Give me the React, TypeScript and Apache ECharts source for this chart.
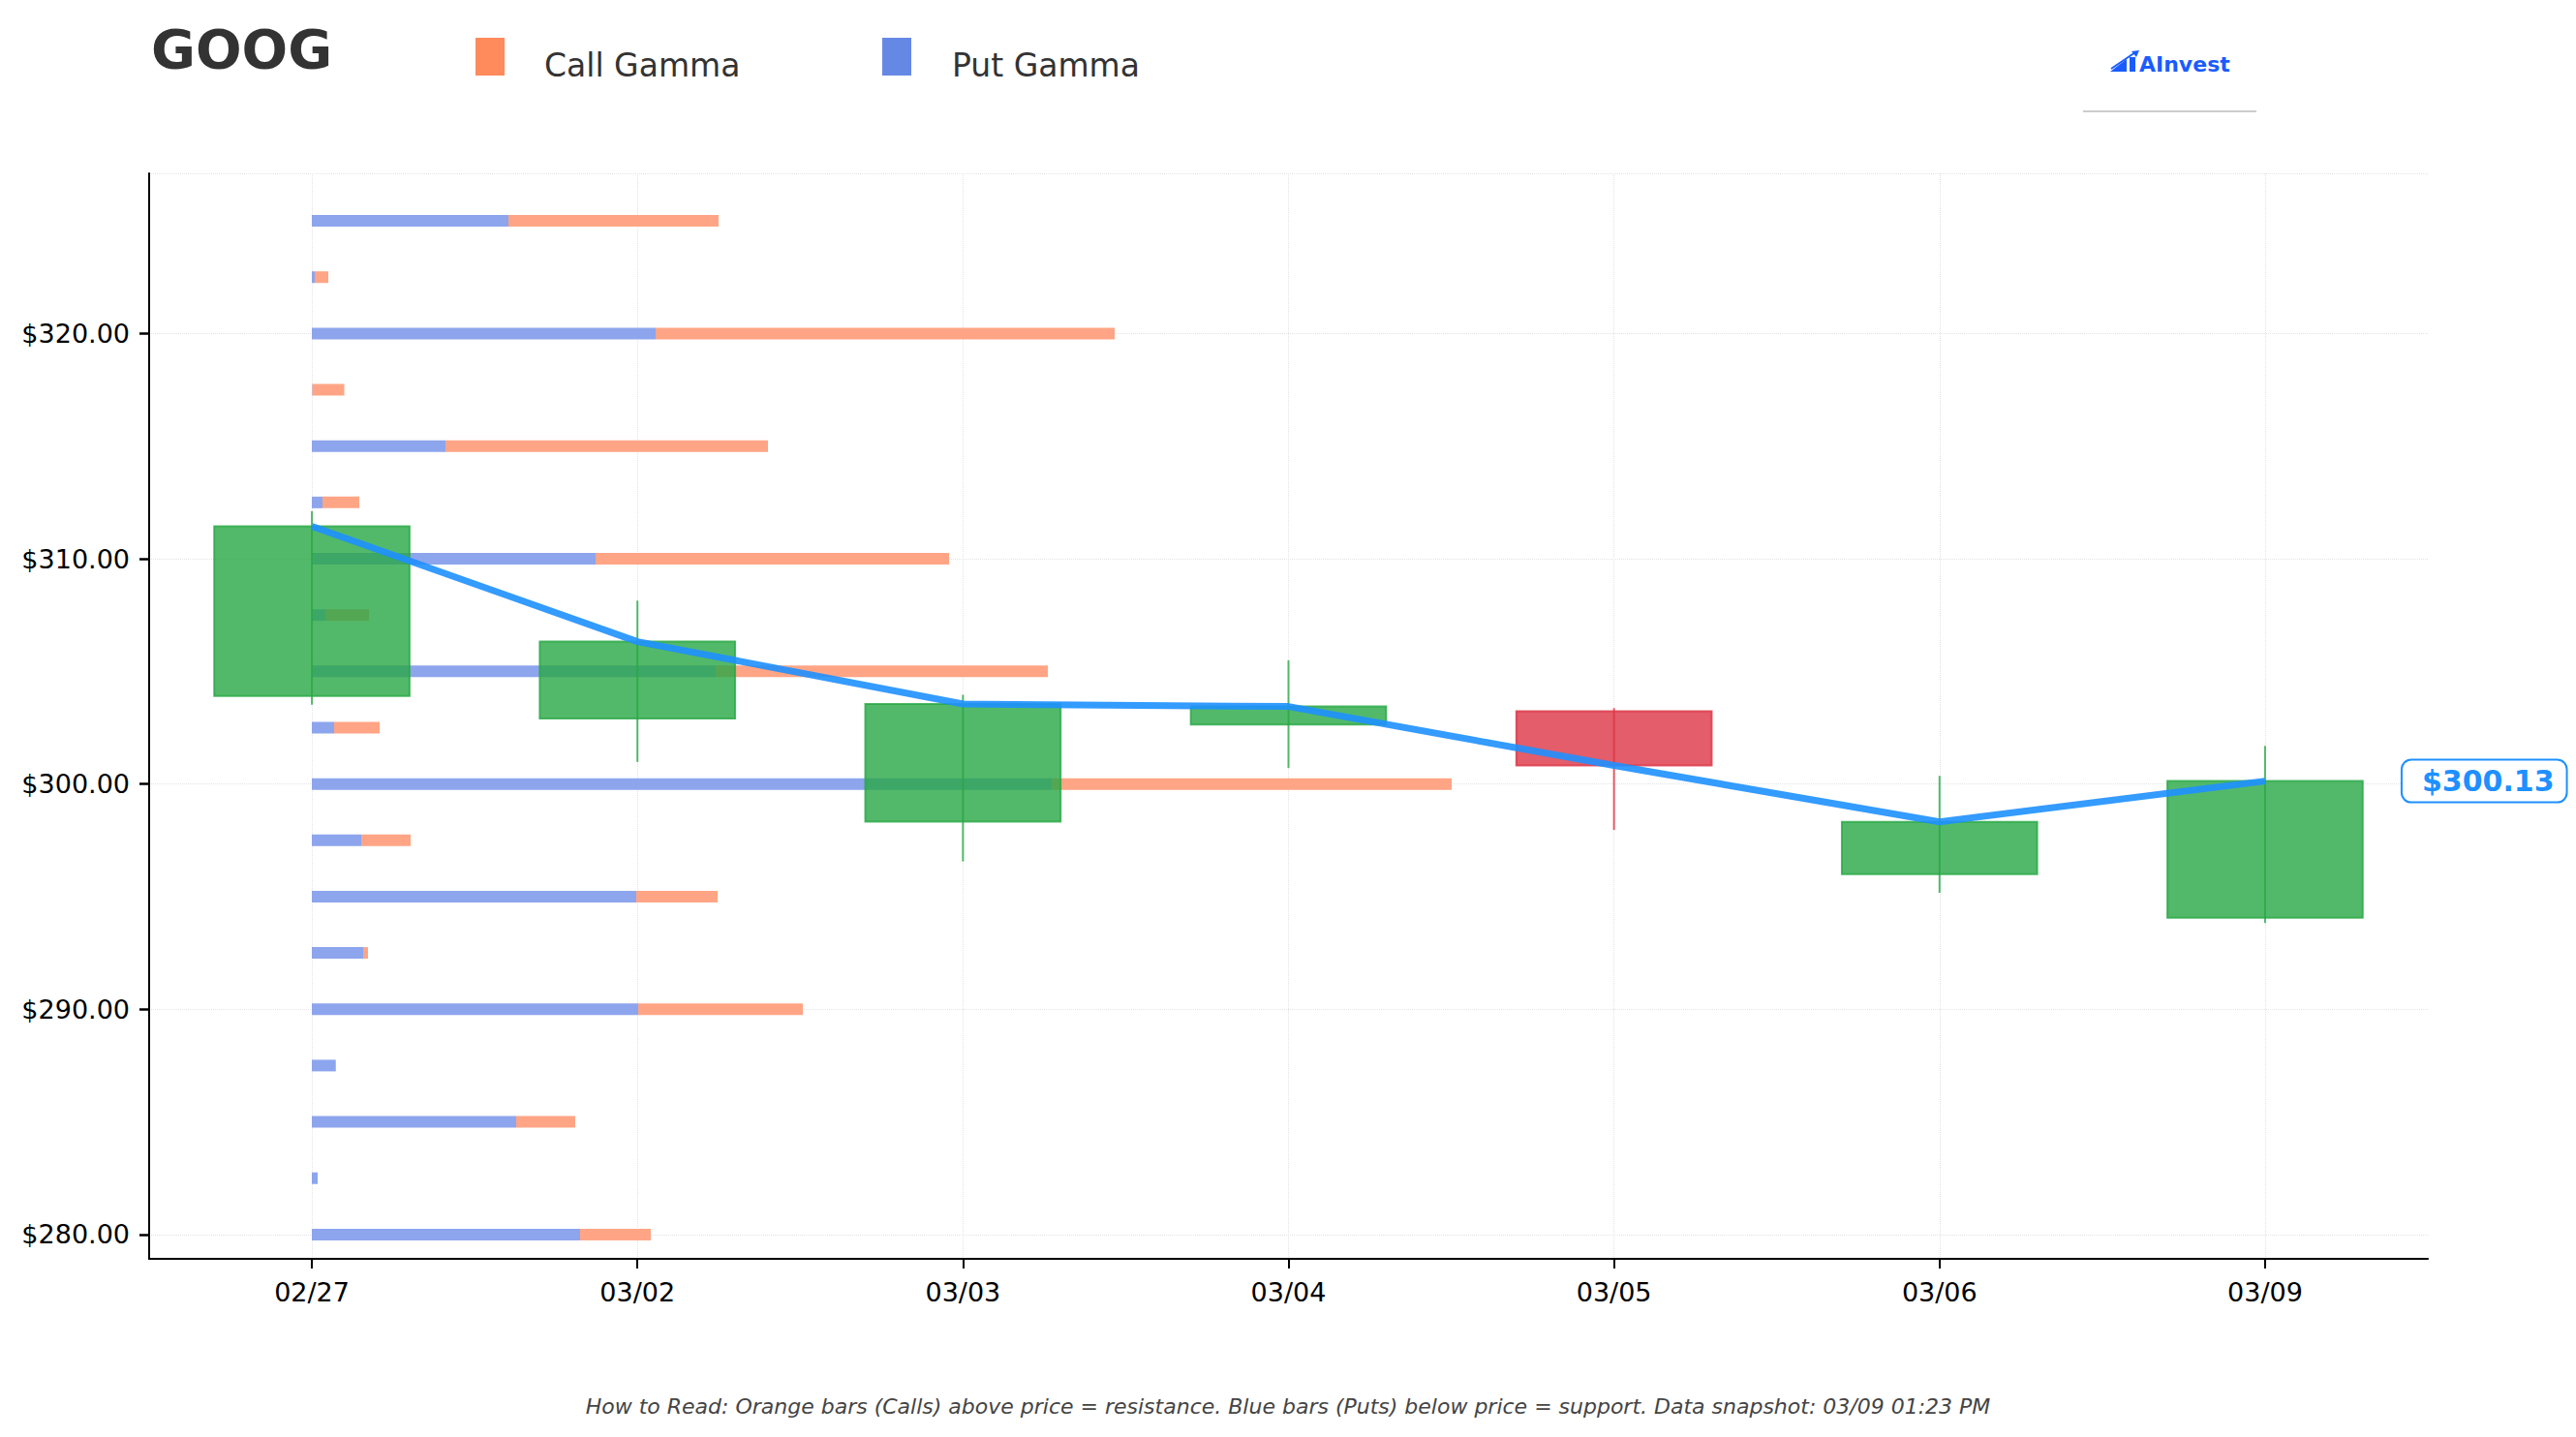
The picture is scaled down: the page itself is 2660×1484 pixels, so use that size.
import React, { useEffect, useRef } from 'react';
import * as echarts from 'echarts';

// ---- Data ----
const dates = ['02/27', '03/02', '03/03', '03/04', '03/05', '03/06', '03/09'];
const opens = [303.91, 302.91, 298.33, 302.64, 303.23, 296.0, 294.06];
const closes = [311.44, 306.32, 303.55, 303.44, 300.82, 298.32, 300.13];
const lows = [303.52, 300.98, 296.56, 300.71, 297.96, 295.17, 293.83];
const highs = [312.11, 308.14, 303.96, 305.49, 303.37, 300.36, 301.69];

const strikes = [280, 282.5, 285, 287.5, 290, 292.5, 295, 297.5, 300, 302.5, 305, 307.5, 310, 312.5, 315, 317.5, 320, 322.5, 325];
const putGamma = [27.7, 0.6, 21.1, 2.4, 33.7, 5.3, 33.5, 5.1, 76.4, 2.3, 41.7, 1.4, 29.3, 1.1, 13.8, 0.05, 35.5, 0.3, 20.3];
const callGamma = [7.3, 0, 6.1, 0.1, 17.0, 0.5, 8.4, 5.1, 41.3, 4.7, 34.3, 4.5, 36.5, 3.8, 33.3, 3.3, 47.4, 1.4, 21.7];

const TITLE = 'GOOG';
const FOOTER = 'How to Read: Orange bars (Calls) above price = resistance. Blue bars (Puts) below price = support. Data snapshot: 03/09 01:23 PM';

const FONT = 'DejaVu Sans';

export default function App() {
  const ref = useRef<HTMLDivElement>(null);

  useEffect(() => {
    if (!ref.current) return;
    const chart = echarts.init(ref.current, null, { renderer: 'svg' });

    const gammaData = strikes.map((s, i) => [s, putGamma[i], callGamma[i]]);
    const candleData = dates.map((d, i) => [i, opens[i], closes[i], lows[i], highs[i]]);

    const option: any = {
      animation: false,
      backgroundColor: '#ffffff',
      grid: { left: 154, right: 153, top: 179, bottom: 184, containLabel: false },
      xAxis: [
        {
          type: 'category',
          data: dates,
          boundaryGap: true,
          axisLine: { show: true, onZero: false, lineStyle: { color: '#000', width: 2 } },
          axisTick: { show: true, alignWithLabel: true, length: 10, lineStyle: { color: '#000', width: 2 } },
          axisLabel: { color: '#000', fontSize: 27, fontFamily: FONT, margin: 21 },
          splitLine: { show: true, alignWithLabel: true, lineStyle: { color: '#e3e3e3', type: 'dotted', width: 1 } },
        },
        {
          type: 'value',
          show: false,
          min: -16.8,
          max: 218.5,
          axisLine: { onZero: false },
          splitLine: { show: false },
        },
      ],
      yAxis: [
        {
          type: 'value',
          min: 278.92,
          max: 327.11,
          splitNumber: 5,
          axisLine: { show: true, onZero: false, lineStyle: { color: '#000', width: 2 } },
          axisTick: { show: true, length: 10, lineStyle: { color: '#000', width: 2.5 } },
          axisLabel: {
            color: '#000',
            fontSize: 27,
            fontFamily: FONT,
            margin: 20,
            showMinLabel: false,
            showMaxLabel: false,
            formatter: (v: number) => '$' + v.toFixed(2),
          },
          splitLine: { show: true, lineStyle: { color: '#e3e3e3', type: 'dotted', width: 1 } },
        },
      ],
      series: [
        {
          name: 'Put Gamma',
          type: 'custom',
          xAxisIndex: 1,
          yAxisIndex: 0,
          z: 1,
          data: gammaData,
          encode: { x: [1, 2], y: 0 },
          renderItem: (params: any, api: any) => {
            const s = api.value(0);
            const p = api.value(1);
            const p0 = api.coord([0, s]);
            const p1 = api.coord([p, s]);
            const h = 12;
            return {
              type: 'rect',
              shape: { x: p0[0], y: p0[1] - h / 2, width: p1[0] - p0[0], height: h },
              style: { fill: '#8DA5ED' },
            };
          },
        },
        {
          name: 'Call Gamma',
          type: 'custom',
          xAxisIndex: 1,
          yAxisIndex: 0,
          z: 1,
          data: gammaData,
          encode: { x: [1, 2], y: 0 },
          renderItem: (params: any, api: any) => {
            const s = api.value(0);
            const p = api.value(1);
            const c = api.value(2);
            const p1 = api.coord([p, s]);
            const p2 = api.coord([p + c, s]);
            const h = 12;
            return {
              type: 'rect',
              shape: { x: p1[0], y: p1[1] - h / 2, width: p2[0] - p1[0], height: h },
              style: { fill: '#FFA585' },
            };
          },
        },
        {
          name: 'Price',
          type: 'custom',
          xAxisIndex: 0,
          yAxisIndex: 0,
          z: 2,
          data: candleData,
          encode: { x: 0, y: [1, 2, 3, 4] },
          renderItem: (params: any, api: any) => {
            const i = api.value(0);
            const o = api.value(1);
            const c = api.value(2);
            const l = api.value(3);
            const h = api.value(4);
            const up = c >= o;
            const col = up ? 'rgba(40,167,69,0.8)' : 'rgba(220,53,69,0.8)';
            const w = api.size([1, 0])[0] * 0.6;
            const pH = api.coord([i, h]);
            const pL = api.coord([i, l]);
            const pO = api.coord([i, o]);
            const pC = api.coord([i, c]);
            const top = Math.min(pO[1], pC[1]);
            const bot = Math.max(pO[1], pC[1]);
            return {
              type: 'group',
              children: [
                {
                  type: 'line',
                  shape: { x1: pH[0], y1: pH[1], x2: pL[0], y2: pL[1] },
                  style: { stroke: col, lineWidth: 2 },
                },
                {
                  type: 'rect',
                  shape: { x: pO[0] - w / 2, y: top, width: w, height: bot - top },
                  style: { fill: col, stroke: col, lineWidth: 2 },
                },
              ],
            };
          },
        },
        {
          name: 'Close',
          type: 'line',
          xAxisIndex: 0,
          yAxisIndex: 0,
          z: 3,
          data: closes,
          symbol: 'none',
          lineStyle: { color: '#1E90FF', width: 7, opacity: 0.9 },
          endLabel: {
            show: true,
            distance: 142,
            formatter: (p: any) => {
              const v = Array.isArray(p.value) ? p.value[1] : p.value;
              return '$' + Number(v).toFixed(2);
            },
            color: '#1E90FF',
            fontWeight: 'bold',
            fontSize: 30,
            fontFamily: FONT,
            backgroundColor: '#ffffff',
            borderColor: '#1E90FF',
            borderWidth: 2,
            borderRadius: 9,
            padding: [6, 12, 6, 20],
          },
        },
      ],
      graphic: [
        {
          type: 'text',
          left: 156,
          top: 22,
          style: { text: TITLE, font: `bold 56px "${FONT}"`, fill: '#333333' },
        },
        {
          type: 'rect',
          shape: { x: 491, y: 39, width: 30, height: 39 },
          style: { fill: '#FF8A5C' },
        },
        {
          type: 'text',
          x: 562,
          y: 84,
          style: { text: 'Call Gamma', font: `33px "${FONT}"`, fill: '#333333', verticalAlign: 'bottom' },
        },
        {
          type: 'rect',
          shape: { x: 911, y: 39, width: 30, height: 39 },
          style: { fill: '#6688E5' },
        },
        {
          type: 'text',
          x: 983,
          y: 84,
          style: { text: 'Put Gamma', font: `33px "${FONT}"`, fill: '#333333', verticalAlign: 'bottom' },
        },
        // AInvest logo
        {
          type: 'polygon',
          shape: { points: [[2179, 74], [2196, 61], [2196, 74]] },
          style: { fill: '#1A5CFF' },
        },
        {
          type: 'rect',
          shape: { x: 2199, y: 59, width: 6, height: 15 },
          style: { fill: '#1A5CFF' },
        },
        {
          type: 'line',
          shape: { x1: 2180, y1: 71, x2: 2205, y2: 54 },
          style: { stroke: '#1A5CFF', lineWidth: 2 },
        },
        {
          type: 'polygon',
          shape: { points: [[2201, 53], [2209, 52], [2206, 59]] },
          style: { fill: '#1A5CFF' },
        },
        {
          type: 'text',
          x: 2209,
          y: 66,
          style: { text: 'AInvest', font: `bold 22px "${FONT}"`, fill: '#1A5CFF', verticalAlign: 'middle' },
        },
        {
          type: 'line',
          shape: { x1: 2151, y1: 115, x2: 2330, y2: 115 },
          style: { stroke: '#cccccc', lineWidth: 2 },
        },
        {
          type: 'text',
          x: 1330,
          y: 1452,
          style: {
            text: FOOTER,
            font: `italic 22px "${FONT}"`,
            fill: '#444444',
            align: 'center',
            verticalAlign: 'middle',
          },
        },
      ],
    };

    chart.setOption(option);
    return () => {
      chart.dispose();
    };
  }, []);

  return (
    <div
      ref={ref}
      style={{ position: 'fixed', left: 0, top: 0, width: 2660, height: 1484, background: '#fff' }}
    />
  );
}
